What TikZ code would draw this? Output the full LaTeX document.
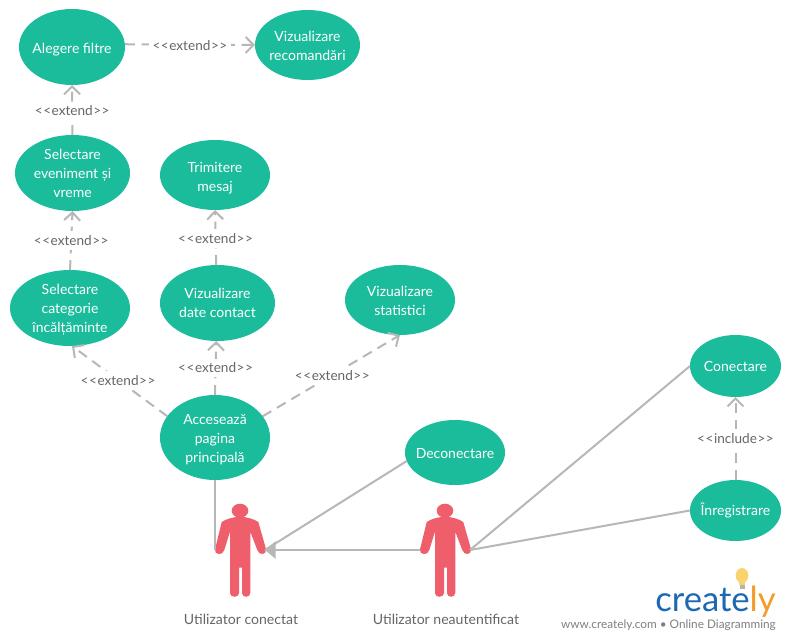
\documentclass[tikz,border=0pt]{standalone}
\usepackage{fontspec}
\setmainfont{Lato}
\usetikzlibrary{arrows.meta,shapes.geometric}
\definecolor{teal}{HTML}{1ABC9C}
\definecolor{actorred}{HTML}{EF5E6B}
\definecolor{linegray}{HTML}{B7B7B7}
\definecolor{labelgray}{HTML}{666666}
\definecolor{logoblue}{HTML}{1B68B3}
\definecolor{logoorange}{HTML}{F39C2B}
\definecolor{bulb}{HTML}{F8D36F}
\definecolor{taggray}{HTML}{808080}
\newcommand\eltext[2][0]{\makebox[0pt]{\smash{\raisebox{\dimexpr-.42em+#1\dimexpr.75pt\relax\relax}{\begin{tabular}[c]{@{}c@{}}#2\end{tabular}}}}}
\newcommand\ext{<\kern.4pt<\kern.4pt extend\kern.4pt>\kern.4pt>}
\newcommand\inc{<\kern.4pt<\kern.4pt include\kern.4pt>\kern.4pt>}
\tikzset{
 usecase/.style 2 args={ellipse,fill=teal,draw=none,text=white,inner sep=0pt,outer sep=0pt,
   minimum width=#1*.75pt,minimum height=#2*.75pt,font=\fontsize{10.5}{14.25}\selectfont},
 dep/.style={draw=linegray,line width=1.5pt,dash pattern=on 7.5pt off 5pt,
   -{Straight Barb[length=6pt,width=12pt,line width=1.5pt]}},
 assoc/.style={draw=linegray,line width=1.5pt},
 lbl/.style={fill=white,text=labelgray,inner xsep=3pt,inner ysep=3pt,font=\fontsize{10.2}{12}\selectfont},
 actorname/.style={text=labelgray,inner sep=0pt,font=\fontsize{10.55}{12}\selectfont},
 actor/.pic={
   \fill[actorred] (0,510.7) ellipse [x radius=8.3,y radius=7];
   \fill[actorred] (0,516.7) .. controls (-7,517) and (-14,519) .. (-18.3,522)
     -- (-25,549.5) .. controls (-26,555) and (-17,556) .. (-15.7,550)
     -- (-10,531.7) -- (-10,593) .. controls (-10,598) and (-1,598) .. (-1,593)
     -- (-1,567.7) -- (2,567.7) -- (2,593) .. controls (2,598) and (10.3,598) .. (10.3,593)
     -- (10.3,531.7) -- (17.3,550) .. controls (19,556) and (27,555) .. (26,549)
     -- (18.3,522) .. controls (14,519) and (7,517) .. (0,516.7) -- cycle;
   \coordinate (-lh) at (-25,550);
   \coordinate (-rh) at (25,550);
 }
}
\begin{document}
\begin{tikzpicture}[x=.75pt,y=-.75pt]
\useasboundingbox[fill=white] (0,0) rectangle (790,640);
% use cases
\node[usecase={106}{76}] (filtre) at (72,47) {\eltext{Alegere filtre}};
\node[usecase={105}{70}] (recom) at (307.5,45) {\eltext{Vizualizare\\recomandări}};
\node[usecase={115}{76}] (even) at (72.5,173) {\eltext[1]{Selectare\\eveniment și\\vreme}};
\node[usecase={110}{70}] (mesaj) at (215,175) {\eltext[-1]{Trimitere\\mesaj}};
\node[usecase={120}{76}] (categ) at (70,308) {\eltext[1]{Selectare\\categorie\\încălțăminte}};
\node[usecase={115}{76}] (contact) at (217.5,303) {\eltext[1]{Vizualizare\\date contact}};
\node[usecase={110}{70}] (stat) at (400,300) {\eltext{Vizualizare\\statistici}};
\node[usecase={110}{85}] (acc) at (215,437.5) {\eltext{Accesează\\pagina\\principală}};
\node[usecase={100}{65}] (decon) at (455,452.5) {\eltext{Deconectare}};
\node[usecase={91}{62}] (con) at (735.5,366) {\eltext[1]{Conectare}};
\node[usecase={91}{61}] (inreg) at (735.5,510.5) {\eltext[1]{Înregistrare}};
% actors
\pic (a1) at (240,0) {actor};
\pic (a2) at (445,0) {actor};
\node[actorname] (a1name) at (241,619) {Utilizator conectat};
\node[actorname] (a2name) at (446,619) {Utilizator neautentificat};
% extends
\draw[dep] (filtre.3) -- node[lbl,pos=.5,yshift=-.75pt] (l1) {\ext} (recom.180);
\draw[dep] (even.north) -- node[lbl,pos=.5,yshift=-.75pt] (l2) {\ext} (filtre.south);
\draw[dep] (categ.north) -- node[lbl,pos=.5] (l3) {\ext} (even.south);
\draw[dep] (contact.92) -- node[lbl,pos=.5,yshift=-.75pt] (l4) {\ext} (mesaj.south);
\draw[dep] (acc.156) -- node[lbl,pos=.5,xshift=-1.2pt,yshift=.75pt] (l5) {\ext} (categ.273);
\draw[dep] (acc.north) -- node[lbl,pos=.5] (l6) {\ext} (contact.268);
\draw[dep] (acc.24) -- node[lbl,pos=.5,xshift=.75pt] (l7) {\ext} (stat.270);
\draw[dep] (inreg.north) -- node[lbl,pos=.5] (l8) {\inc} (con.south);
% associations
\draw[assoc] (acc.south) -- (acc.south |- a1-lh);
\draw[assoc] (decon.190) -- (a1-rh);
\draw[assoc,-{Triangle[length=8pt,width=13pt,fill=linegray]}] (a2-lh) -- (a1-rh);
\draw[assoc] (a2-rh) -- (con.180);
\draw[assoc] (a2-rh) -- (inreg.180);
% logo
\fill[bulb] (742,575.5) ellipse [x radius=6.3,y radius=7.5];
\fill[bulb] (739,581) rectangle (745,585);
\fill[taggray!60] (739.5,585) rectangle (744.5,588.5);
\node[anchor=base west,inner sep=0pt,font=\fontsize{26}{26}\selectfont,text=logoblue] (logo) at (655,611) {create\textcolor{logoorange}{ly}};
\node[anchor=base east,inner sep=0pt,text=taggray,font=\fontsize{8.85}{10}\selectfont] (tag) at (776,628) {www.creately.com • Online Diagramming};
\end{tikzpicture}
\end{document}
